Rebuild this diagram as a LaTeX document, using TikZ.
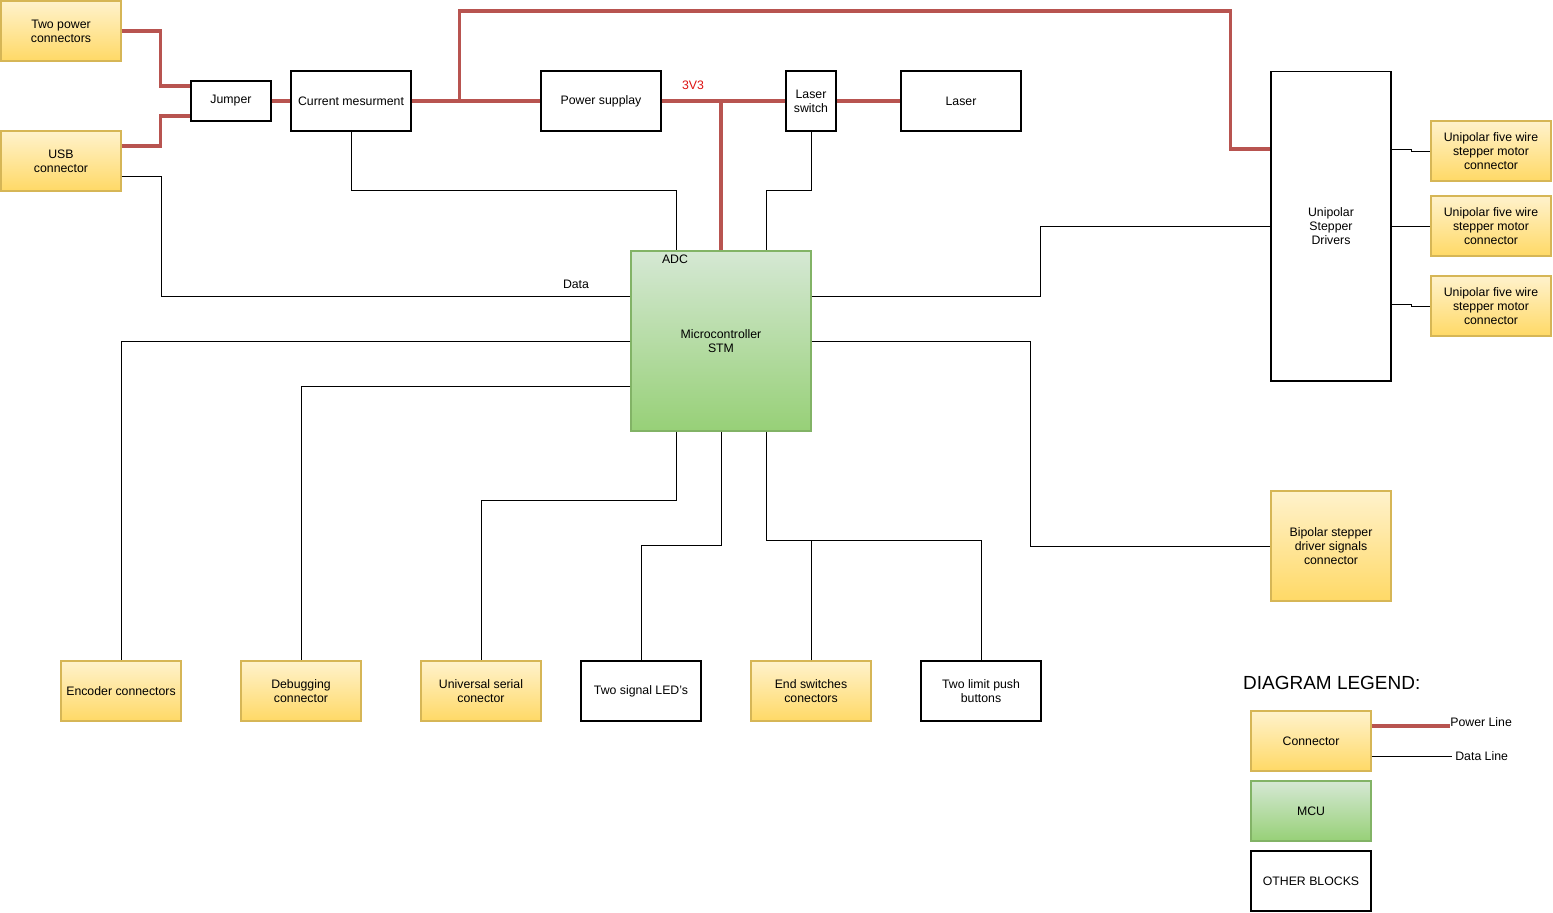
\documentclass[tikz,border=0pt]{standalone}
\usepackage{fontspec}
\setmainfont{Liberation Sans}
\usetikzlibrary{calc}

\definecolor{conntop}{HTML}{FFF2CC}
\definecolor{connbot}{HTML}{FFD966}
\definecolor{connline}{HTML}{D6B656}
\definecolor{mcutop}{HTML}{D5E8D4}
\definecolor{mcubot}{HTML}{97D077}
\definecolor{mculine}{HTML}{82B366}
\definecolor{pwr}{HTML}{B85450}
\definecolor{vred}{HTML}{DD1111}

\begin{document}
\begin{tikzpicture}[x=0.02cm, y=-0.02cm,
    every node/.style={font=\fontsize{7}{8}\selectfont, align=center},
    conn/.style={draw=connline, line width=0.6pt, top color=conntop, bottom color=connbot,
      minimum width=24mm, minimum height=12mm, inner sep=1pt},
    mcu/.style={draw=mculine, line width=0.6pt, top color=mcutop, bottom color=mcubot, inner sep=1pt},
    blk/.style={draw=black, line width=0.6pt, fill=white, minimum width=24mm, minimum height=12mm, inner sep=1pt},
    pline/.style={draw=pwr, line width=2pt},
    dline/.style={draw=black, line width=0.55pt}]
    \useasboundingbox (0,0) rectangle (1553,913);

    % Top row
    \node[conn] (twopwr) at (61,31) {Two power\\connectors};
    \node[conn] (usb) at (61,161) {USB\\connector};
    \node[blk, minimum width=16mm, minimum height=8mm] (jmp) at (231,101) {Jumper};
    \node[blk] (cur) at (351,101) {Current mesurment};
    \node[blk] (psu) at (601,101) {Power supplay};
    \node[blk, minimum width=10mm] (lsw) at (811,101) {Laser\\switch};
    \node[blk] (laser) at (961,101) {Laser};

    % Microcontroller
    \node[mcu, minimum width=36mm, minimum height=36mm] (stm) at (721,341) {Microcontroller\\STM};

    % Stepper drivers and motor connectors
    \node[blk, minimum height=62mm] (drv) at (1331,226) {Unipolar\\Stepper\\Drivers};
    \node[conn] (uni1) at (1491,151) {Unipolar five wire\\stepper motor\\connector};
    \node[conn] (uni2) at (1491,226) {Unipolar five wire\\stepper motor\\connector};
    \node[conn] (uni3) at (1491,306) {Unipolar five wire\\stepper motor\\connector};
    \node[conn, minimum height=22mm] (bip) at (1331,546) {Bipolar stepper\\driver signals\\connector};

    % Bottom row
    \node[conn] (enc) at (121,691) {Encoder connectors};
    \node[conn] (dbg) at (301,691) {Debugging\\connector};
    \node[conn] (uart) at (481,691) {Universal serial\\conector};
    \node[blk] (led) at (641,691) {Two signal LED's};
    \node[conn] (endsw) at (811,691) {End switches\\conectors};
    \node[blk] (btn) at (981,691) {Two limit push\\buttons};

    % Power lines
    \draw[pline] (twopwr.east) -| ($(jmp.west)+(-30,-15)$) -- ($(jmp.west)+(0,-15)$);
    \draw[pline] ($(usb.east)+(0,-15)$) -| ($(jmp.west)+(-30,15)$) -- ($(jmp.west)+(0,15)$);
    \draw[pline] (jmp) -- (cur);
    \draw[pline] (cur) -- (psu);
    \coordinate (tap) at ($(cur.east)+(48,0)$);
    \draw[pline] (tap) -- ++(0,-90) -| ($(drv.west)+(-40,-77)$) -- ($(drv.west)+(0,-77)$);
    \draw[pline] (psu) -- (lsw);
    \draw[pline] (stm.north) -- (stm.north |- psu.east);
    \draw[pline] (lsw) -- (laser);
    \node[text=vred] (v33) at (693,85) {3V3};

    % Data lines
    \draw[dline] (cur.south) |- ($(stm.north)+(-45,-60)$) -- ($(stm.north)+(-45,0)$);
    \draw[dline] (lsw.south) |- ($(stm.north)+(45,-60)$) -- ($(stm.north)+(45,0)$);
    \draw[dline] ($(usb.east)+(0,15)$) -- ++(40,0) |- ($(stm.west)+(0,-45)$);
    \node (data) at (576,284) {Data};
    \node (adc) at (675,259) {ADC};
    \draw[dline] ($(stm.east)+(0,-45)$) -| ($(drv.west)+(-230,0)$) -- (drv.west);
    \draw[dline] (stm.west) -| (enc.north);
    \draw[dline] ($(stm.west)+(0,45)$) -| (dbg.north);
    \draw[dline] ($(stm.south)+(-45,0)$) |- ($(uart.north)+(0,-160)$) -- (uart.north);
    \draw[dline] (stm.south) |- ($(led.north)+(0,-115)$) -- (led.north);
    \draw[dline] ($(stm.south)+(45,0)$) |- ($(btn.north)+(0,-120)$) -- (btn.north);
    \draw[dline] (endsw.north) -- ++(0,-120);
    \draw[dline] (stm.east) -| ($(bip.west)+(-240,0)$) -- (bip.west);
    \draw[dline] ($(drv.east)+(0,-77)$) -- ++(20,0) |- (uni1.west);
    \draw[dline] (drv.east) -- (uni2.west);
    \draw[dline] ($(drv.east)+(0,78)$) -- ++(20,0) |- (uni3.west);

    % Legend
    \node[anchor=west, font=\fontsize{10.8}{12}\selectfont] (legtitle) at (1237,683) {DIAGRAM LEGEND:};
    \node[conn] (lgconn) at (1311,741) {Connector};
    \node[mcu, minimum width=24mm, minimum height=12mm] (lgmcu) at (1311,811) {MCU};
    \node[blk] (lgblk) at (1311,881) {OTHER BLOCKS};
    \node[anchor=base west, inner sep=0pt] (lgpwr) at (1450,726) {Power Line};
    \node[anchor=west, inner sep=0pt] (lgdat) at (1455,756) {Data Line};
    \draw[pline] ($(lgconn.east)+(0,-15)$) -- (lgpwr.base west);
    \draw[dline] ($(lgconn.east)+(0,15)$) -- ($(lgdat.west)+(-3,0)$);
\end{tikzpicture}
\end{document}
